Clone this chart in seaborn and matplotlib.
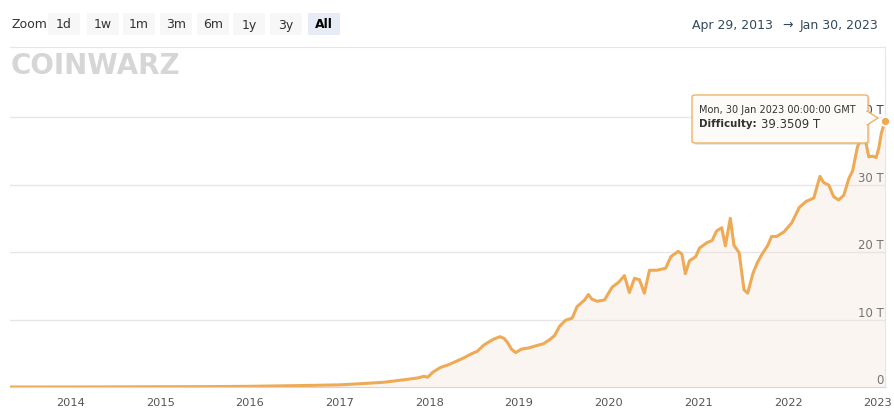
import matplotlib
matplotlib.use("Agg")
import matplotlib.pyplot as plt
from matplotlib.patches import FancyBboxPatch, Polygon, Rectangle
import seaborn as sns
import pandas as pd

# difficulty history (T)
dates = [
    "2013-04-29", "2013-10-01", "2014-01-01", "2014-07-01", "2015-01-01", "2015-07-01",
    "2016-01-01", "2016-07-01", "2017-01-01", "2017-04-01", "2017-07-01", "2017-10-01",
    "2017-11-15", "2017-12-10", "2017-12-25", "2018-01-15", "2018-02-15", "2018-03-20",
    "2018-04-20", "2018-05-20", "2018-06-20", "2018-07-15", "2018-08-10", "2018-09-01",
    "2018-09-20", "2018-10-15", "2018-11-01", "2018-11-15", "2018-12-01", "2018-12-18",
    "2019-01-10", "2019-02-10", "2019-03-10", "2019-04-10", "2019-05-05", "2019-05-25",
    "2019-06-15", "2019-07-10", "2019-08-05", "2019-08-25", "2019-09-25", "2019-10-10",
    "2019-10-25", "2019-11-15", "2019-12-15", "2020-01-15", "2020-02-10", "2020-03-05",
    "2020-03-25", "2020-04-15", "2020-05-05", "2020-05-25", "2020-06-15", "2020-07-15",
    "2020-08-20", "2020-09-10", "2020-10-10", "2020-10-25", "2020-11-08", "2020-11-25",
    "2020-12-20", "2021-01-05", "2021-02-05", "2021-02-25", "2021-03-15", "2021-04-05",
    "2021-04-20", "2021-05-10", "2021-05-25", "2021-06-15", "2021-07-05", "2021-07-20",
    "2021-08-10", "2021-08-28", "2021-09-15", "2021-10-10", "2021-10-25", "2021-11-15",
    "2021-12-15", "2022-01-15", "2022-02-15", "2022-03-15", "2022-04-15", "2022-05-10",
    "2022-05-25", "2022-06-15", "2022-07-05", "2022-07-25", "2022-08-15", "2022-09-05",
    "2022-09-20", "2022-10-10", "2022-10-25", "2022-11-10", "2022-11-25", "2022-12-10",
    "2022-12-25", "2023-01-05", "2023-01-15", "2023-01-30",
]
difficulty = [
    0.00001, 0.0002, 0.0014, 0.017, 0.040, 0.049,
    0.103, 0.196, 0.317, 0.50, 0.71, 1.12,
    1.35, 1.59, 1.45, 2.2, 2.9, 3.3,
    3.8, 4.3, 4.9, 5.3, 6.2, 6.7,
    7.1, 7.45, 7.2, 6.6, 5.6, 5.1,
    5.6, 5.8, 6.1, 6.4, 7.0, 7.6,
    9.0, 9.9, 10.2, 11.9, 12.9, 13.7,
    13.0, 12.7, 12.9, 14.8, 15.5, 16.5,
    14.0, 16.1, 15.9, 13.9, 17.3, 17.3,
    17.6, 19.3, 20.1, 19.7, 16.8, 18.7,
    19.3, 20.6, 21.4, 21.7, 23.1, 23.6,
    20.9, 25.0, 21.0, 19.9, 14.4, 13.9,
    16.8, 18.4, 19.6, 21.0, 22.3, 22.3,
    23.0, 24.3, 26.6, 27.5, 28.0, 31.2,
    30.3, 29.9, 28.2, 27.7, 28.4, 30.9,
    32.0, 35.6, 36.8, 36.8, 34.1, 34.2,
    34.0, 35.4, 37.6, 39.35,
]
year_ticks = [str(y) for y in range(2014, 2024)]
y_ticks = [0, 10, 20, 30, 40]
y_labels = ["0", "10 T", "20 T", "30 T", "40 T"]
zoom_buttons = ["1d", "1w", "1m", "3m", "6m", "1y", "3y", "All"]

df = pd.DataFrame({"date": pd.to_datetime(dates), "difficulty": difficulty})

W, H = 894, 415
LINE = "#eeaa55"
GRID = "#e6e6e6"
AXIS = "#ccd6eb"


def px(x, y):
    return x / W, 1 - y / H


sns.set_style("white")
fig = plt.figure(figsize=(W / 100, H / 100), dpi=100)
ax = fig.add_axes([10 / W, 1 - 387 / H, 875 / W, 340 / H])

ax.fill_between(df["date"], df["difficulty"], 0, color="#f3e0d3", alpha=0.3, lw=0)
sns.lineplot(data=df, x="date", y="difficulty", color=LINE, linewidth=2.2, ax=ax)
ax.plot(df["date"].iloc[-1], df["difficulty"].iloc[-1], "o", ms=6.5,
        mfc=LINE, mec="white", mew=1.2, zorder=5, clip_on=False)

ax.set_xlim(df["date"].iloc[0], df["date"].iloc[-1])
ax.set_ylim(0, 340 / 6.75)
ax.set_xlabel("")
ax.set_ylabel("")

ax.set_xticks(pd.to_datetime([f"{y}-01-01" for y in year_ticks]))
ax.set_xticklabels(year_ticks)
ax.tick_params(axis="x", length=6, color=AXIS, width=1, pad=2,
               labelsize=8.2, labelcolor="#555555")

ax.yaxis.tick_right()
ax.set_yticks(y_ticks)
ax.set_yticklabels(y_labels)
ax.tick_params(axis="y", length=0, pad=-1, labelsize=8.4, labelcolor="#444444")
for lbl in ax.get_yticklabels():
    lbl.set_ha("right")
    lbl.set_va("bottom")
for t in y_ticks[1:]:
    ax.axhline(t, color=GRID, lw=1, zorder=0)

ax.spines["left"].set_visible(False)
ax.spines["bottom"].set_color(AXIS)
ax.spines["top"].set_color("#e6e6e6")
ax.spines["right"].set_color("#e6e6e6")
ax.grid(False)

# header: range selector
fig.text(*px(12, 25), "Zoom", fontsize=9, color="#333333", va="center")
btn_x = [48, 87, 123, 160, 197, 233, 270, 308]
for bx, lab in zip(btn_x, zoom_buttons):
    active = lab == "All"
    fig.patches.append(Rectangle(px(bx, 35), 32 / W, 22 / H, transform=fig.transFigure,
                                 color="#e6ebf5" if active else "#f7f7f7", lw=0))
    fig.text(*px(bx + 16, 25), lab, fontsize=9, ha="center", va="center",
             color="#000000" if active else "#333333",
             fontweight="bold" if active else "normal")

fig.text(*px(773, 25), "Apr 29, 2013", fontsize=9, color="#34495e", ha="right", va="center")
fig.text(*px(788, 25), "\u2192", fontsize=9, color="#34495e", ha="center", va="center")
fig.text(*px(878, 25), "Jan 30, 2023", fontsize=9, color="#34495e", ha="right", va="center")

# watermark logo
fig.text(*px(11, 66), "COINWARZ", fontsize=20, fontweight="heavy", color="#d6d6d6",
         va="center")

# tooltip
fig.patches.append(FancyBboxPatch(px(694, 145), 176 / W, 48 / H,
                                  boxstyle="round,pad=0,rounding_size=0.004",
                                  transform=fig.transFigure, fc="#bbbbbb", ec="none",
                                  alpha=0.35, zorder=9))
fig.patches.append(FancyBboxPatch(px(692, 143), 176 / W, 48 / H,
                                  boxstyle="round,pad=0,rounding_size=0.004",
                                  transform=fig.transFigure, fc="#fdfbf7", ec="#eeb268",
                                  lw=1, zorder=10))
fig.patches.append(Polygon([px(867, 111), px(878, 118), px(867, 125)], closed=True,
                           transform=fig.transFigure, fc="#fdfbf7", ec="#eeb268", lw=1,
                           zorder=10))
fig.patches.append(Rectangle(px(865, 124), 3 / W, 12 / H, transform=fig.transFigure,
                             fc="#fdfbf7", ec="none", zorder=11))
fig.text(*px(699, 110), "Mon, 30 Jan 2023 00:00:00 GMT", fontsize=7.0, color="#333333",
         va="center", zorder=12)
fig.text(*px(699, 124), "Difficulty:", fontsize=7.4, color="#333333", fontweight="bold",
         va="center", zorder=12)
fig.text(*px(761, 124), "39.3509 T", fontsize=8.4, color="#333333", va="center", zorder=12)

fig.savefig("out.png", dpi=100, facecolor="white")
